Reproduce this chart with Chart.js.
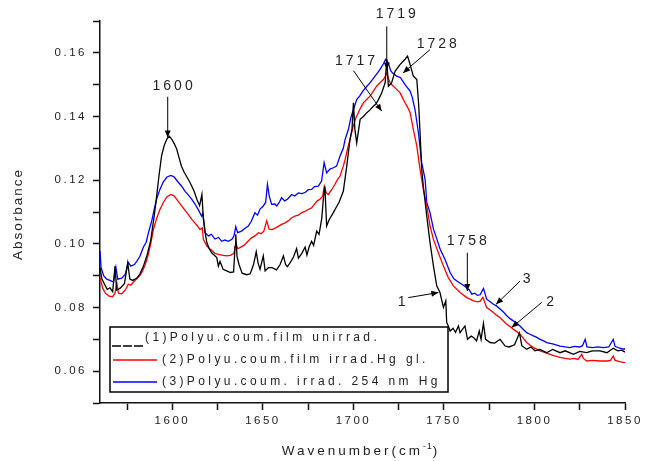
<!DOCTYPE html>
<html>
<head>
<meta charset="utf-8">
<script src="https://cdn.jsdelivr.net/npm/chart.js@4.4.1/dist/chart.umd.min.js"></script>
<style>
  html, body { margin: 0; padding: 0; background: #fff; }
  #wrap { width: 652px; height: 461px; }
</style>
</head>
<body>
<div id="wrap"><canvas id="chart" width="652" height="461"></canvas></div>
<script>
// ── Data ───────────────────────────────────────────────────────────────────
const seriesLabels = [
  "(1)Polyu.coum.film unirrad.",
  "(2)Polyu.coum.film irrad.Hg gl.",
  "(3)Polyu.coum. irrad. 254 nm Hg"
];

const blackWn = [
  1560, 1561, 1562.5, 1564, 1565.5, 1567, 1568.3, 1569.2, 1571, 1573.5,
  1575.3, 1576.5, 1578, 1580.3, 1582, 1584, 1586, 1588, 1590, 1591.3,
  1592.5, 1594, 1595.5, 1597, 1598.3, 1599.5, 1601, 1602.4, 1603.7, 1605,
  1606.5, 1608, 1609.5, 1610.7, 1612, 1613.5, 1615, 1616.3, 1617, 1618,
  1619, 1620.3, 1621.7, 1623, 1624.5, 1625.4, 1626.3, 1628, 1630, 1632,
  1633.8, 1634.6, 1635, 1635.7, 1636.8, 1638.5, 1641, 1643, 1644.8, 1646.3,
  1647.3, 1648.4, 1650.2, 1651.2, 1653, 1655, 1657.5, 1659.5, 1661.3, 1662.5,
  1663.5, 1665.5, 1667, 1668.6, 1669.6, 1671.5, 1673.3, 1674.3, 1675.5, 1676.9,
  1678, 1679.7, 1681, 1682.5, 1683.5, 1684.2, 1685.2, 1686.5, 1688.9, 1690.5,
  1692, 1694.4, 1696.3, 1698.1, 1699.2, 1700, 1700.8, 1701.8, 1703.7, 1705.5,
  1707.4, 1709, 1711, 1712.5, 1713.8, 1715.6, 1717.5, 1718.4, 1719.3, 1721,
  1723, 1725.7, 1728.5, 1729.9, 1731.3, 1733.1, 1735, 1736, 1736.8, 1737.7,
  1738.6, 1740.5, 1742.3, 1744.2, 1746, 1747.8, 1749.7, 1751, 1751.5, 1752.4,
  1753.4, 1755, 1756.4, 1758, 1758.9, 1760, 1761.6, 1763, 1765, 1766.5,
  1768, 1769.5, 1770.5, 1771.8, 1773, 1775.5, 1778, 1781, 1783.8, 1786,
  1789, 1791.7, 1793, 1795.7, 1798, 1800.3, 1803, 1806.7, 1810, 1814.1,
  1817, 1821.5, 1825, 1828.8, 1832, 1836.2, 1840, 1843.5, 1846, 1848.2, 1850
];
const blackAbs = [
  .0926, .0890, .0873, .0857, .0862, .0850, .0930, .0855, .0860, .0875,
  .0940, .0889, .0885, .0892, .0905, .0930, .0965, .1010, .1090, .1150,
  .1210, .1276, .1310, .1330, .1338, .1330, .1315, .1297, .1270, .1244,
  .1225, .1210, .1195, .1181, .1165, .1140, .1120, .1155, .1087, .1040,
  .1004, .0985, .0972, .0965, .0957, .0930, .0945, .0920, .0915, .0910,
  .0912, .0990, .1030, .0960, .0935, .0908, .0903, .0906, .0935, .0975,
  .0940, .0920, .0962, .0915, .0925, .0925, .0918, .0935, .0962, .0935,
  .0928, .0945, .0960, .0985, .0955, .0970, .0990, .0965, .0990, .1008,
  .0995, .1040, .1030, .1080, .1150, .1181, .1056, .1075, .1098, .1115,
  .1130, .1165, .1244, .1328, .1360, .1443, .1360, .1317, .1391, .1400,
  .1412, .1420, .1432, .1440, .1453, .1474, .1506, .1580, .1495, .1505,
  .1542, .1563, .1580, .1590, .1563, .1527, .1516, .1440, .1349, .1234,
  .1181, .1087, .1004, .0930, .0868, .0847, .0800, .0821, .0753, .0742,
  .0726, .0735, .0722, .0742, .0721, .0730, .0742, .0700, .0710, .0705,
  .0695, .0726, .0700, .0750, .0700, .0690, .0688, .0700, .0679, .0676,
  .0683, .0720, .0680, .0669, .0676, .0664, .0668, .0658, .0668, .0658,
  .0664, .0653, .0662, .0658, .0664, .0664, .0658, .0672, .0664, .0666, .0660
];

const redWn = [
  1560, 1561.5, 1563, 1565, 1567, 1568.3, 1569.3, 1570.2, 1572, 1574,
  1575.6, 1577, 1578.5, 1580.3, 1582, 1583.5, 1585, 1586.5, 1588, 1589.5,
  1591.3, 1593.1, 1595, 1597, 1599.2, 1601, 1603, 1605.1, 1607, 1609,
  1610.7, 1612.5, 1614, 1615.2, 1616.5, 1617.1, 1619, 1620.5, 1621.7, 1623.5,
  1625.5, 1628, 1630, 1632, 1634, 1635, 1636, 1637.3, 1639.5, 1641.9,
  1643.5, 1645.6, 1647.5, 1649, 1650.5, 1652.1, 1653.4, 1655, 1657, 1658.5,
  1660.3, 1662, 1664, 1665.9, 1668, 1669.5, 1671.4, 1673.5, 1675, 1676.9,
  1678.5, 1680, 1681.5, 1683, 1683.9, 1685, 1686.1, 1688, 1689.8, 1691,
  1692.6, 1694.4, 1695.4, 1696.8, 1698.1, 1699.9, 1701.3, 1702.7, 1704, 1705.5,
  1707.5, 1709.2, 1711, 1712.8, 1714.5, 1716.5, 1717.5, 1718.4, 1719.3, 1720.2,
  1721.5, 1723, 1725.7, 1727, 1728.5, 1730, 1731.3, 1733.1, 1735, 1736.8,
  1738.6, 1740.5, 1742.3, 1744.2, 1746.9, 1749.7, 1752.4, 1755.2, 1758.9, 1762.6,
  1766.3, 1768.5, 1770, 1771.5, 1773.6, 1775.5, 1777.3, 1779, 1781, 1783,
  1784.7, 1786.5, 1788.3, 1790, 1792, 1794, 1795.7, 1797.5, 1799.4, 1801,
  1803.1, 1806, 1808.6, 1811, 1814.1, 1817, 1819.6, 1822, 1824, 1826.1,
  1827, 1828.8, 1832, 1836, 1840, 1842, 1843.5, 1844.5, 1847, 1849.5, 1850
];
const redAbs = [
  .0894, .0860, .0845, .0836, .0834, .0845, .0878, .0845, .0843, .0855,
  .0873, .0870, .0880, .0890, .0900, .0915, .0935, .0962, .1000, .1045,
  .1080, .1108, .1130, .1148, .1155, .1150, .1135, .1119, .1105, .1090,
  .1077, .1065, .1055, .1045, .1050, .1014, .0993, .0985, .0980, .0970,
  .0967, .0964, .0962, .0964, .0970, .1004, .0985, .0988, .0995, .1009,
  .1018, .1025, .1035, .1032, .1040, .1072, .1046, .1045, .1050, .1055,
  .1061, .1065, .1072, .1082, .1088, .1090, .1098, .1103, .1108, .1113,
  .1125, .1135, .1140, .1150, .1181, .1160, .1155, .1170, .1187, .1200,
  .1213, .1244, .1265, .1300, .1328, .1370, .1395, .1412, .1428, .1443,
  .1455, .1464, .1480, .1495, .1505, .1516, .1525, .1537, .1520, .1506,
  .1498, .1490, .1475, .1460, .1443, .1428, .1412, .1359, .1307, .1234,
  .1171, .1119, .1056, .1014, .0972, .0930, .0894, .0868, .0847, .0831,
  .0821, .0818, .0820, .0832, .0800, .0792, .0784, .0776, .0768, .0757,
  .0747, .0740, .0732, .0725, .0716, .0702, .0690, .0682, .0674, .0670,
  .0664, .0658, .0653, .0648, .0643, .0640, .0638, .0640, .0637, .0653,
  .0640, .0632, .0634, .0632, .0632, .0634, .0648, .0634, .0630, .0627, .0628
];

const blueWn = [
  1560, 1560.6, 1562, 1563.7, 1565.5, 1567.5, 1568.8, 1569.8, 1572, 1574,
  1575.6, 1577, 1579, 1580.3, 1582, 1584, 1585.5, 1587, 1588.5, 1590,
  1591.5, 1593.1, 1595, 1597, 1599.2, 1601, 1603, 1605.1, 1607, 1609,
  1610.7, 1612.5, 1614.5, 1616.1, 1616.8, 1618, 1620, 1621.5, 1623.5, 1625.5,
  1627.2, 1629, 1631, 1633, 1634, 1635, 1636, 1638.2, 1640, 1641.9,
  1643.5, 1645.6, 1647, 1648.5, 1650.2, 1651.5, 1652.5, 1653.5, 1654.8, 1656.5,
  1657.6, 1659, 1660.3, 1662, 1663.5, 1665.9, 1667.5, 1669.6, 1671.5, 1673.5,
  1675, 1676.9, 1678.5, 1680.6, 1682.4, 1683.8, 1685.2, 1687, 1688.9, 1690.7,
  1692.6, 1694.4, 1695.4, 1697.2, 1698.5, 1700, 1701.8, 1703.5, 1705, 1707.4,
  1709, 1711, 1713, 1714.7, 1716.5, 1717.8, 1719.3, 1720.5, 1721.5, 1723.9,
  1726, 1728.5, 1731.3, 1732.5, 1734, 1735.9, 1737.7, 1739.6, 1740.5, 1742.3,
  1744.2, 1745.5, 1747.9, 1750.6, 1753.4, 1755.5, 1757.1, 1759.9, 1762.6, 1764,
  1765.4, 1767, 1768.5, 1770, 1771.8, 1773.6, 1775.5, 1777.3, 1779, 1781,
  1783, 1784.7, 1786.5, 1788.3, 1790, 1792, 1794, 1795.7, 1797.5, 1799.4,
  1801, 1803.1, 1805, 1806.7, 1810, 1814.1, 1817, 1819.6, 1822, 1825,
  1826.5, 1828, 1829, 1832, 1835, 1838, 1841, 1843.5, 1844.5, 1847, 1849.5, 1850
];
const blueAbs = [
  .0977, .0925, .0900, .0889, .0885, .0880, .0926, .0889, .0892, .0905,
  .0942, .0930, .0935, .0945, .0960, .0990, .1005, .1040, .1070, .1110,
  .1145, .1171, .1195, .1210, .1215, .1210, .1195, .1181, .1165, .1152,
  .1140, .1125, .1105, .1087, .1095, .1035, .1025, .1030, .1015, .1020,
  .1008, .1012, .1008, .1015, .1025, .1054, .1035, .1040, .1048, .1056,
  .1070, .1098, .1090, .1110, .1119, .1130, .1187, .1150, .1124, .1125,
  .1119, .1130, .1145, .1135, .1140, .1155, .1150, .1160, .1158, .1162,
  .1170, .1171, .1180, .1181, .1197, .1255, .1223, .1235, .1239, .1244,
  .1276, .1300, .1328, .1359, .1395, .1422, .1453, .1465, .1478, .1495,
  .1505, .1520, .1535, .1548, .1565, .1580, .1568, .1545, .1537, .1527,
  .1522, .1500, .1480, .1460, .1422, .1349, .1255, .1202, .1130, .1098,
  .1046, .1025, .0983, .0951, .0910, .0890, .0883, .0873, .0862, .0855,
  .0842, .0845, .0838, .0840, .0860, .0826, .0818, .0810, .0805, .0795,
  .0785, .0774, .0765, .0758, .0752, .0742, .0730, .0721, .0716, .0711,
  .0707, .0700, .0695, .0690, .0686, .0679, .0676, .0674, .0678, .0676,
  .0680, .0700, .0676, .0674, .0676, .0674, .0676, .0700, .0678, .0672, .0669, .0672
];

// axis ticks (minor ticks carry empty labels)
const xTicks      = [1575, 1600, 1625, 1650, 1675, 1700, 1725, 1750, 1775, 1800, 1825, 1850];
const xTickLabels = ["", "1600", "", "1650", "", "1700", "", "1750", "", "1800", "", "1850"];
const yTicks      = [0.05, 0.06, 0.07, 0.08, 0.09, 0.10, 0.11, 0.12, 0.13, 0.14, 0.15, 0.16, 0.17];
const yTickLabels = ["", "0.06", "", "0.08", "", "0.10", "", "0.12", "", "0.14", "", "0.16", ""];

// peak annotations: label anchor, arrow tail, arrow tip (data coords)
const peakNotes = [
  { text: "1600", at: [1600.1, 0.1495], from: [1597.4, 0.1462], to: [1597.4, 0.1334] },
  { text: "1719", at: [1723.4, 0.1720], from: [1718.4, 0.1683], to: [1718.4, 0.1548] },
  { text: "1717", at: [1700.9, 0.1574], from: [1700.0, 0.1544], to: [1715.6, 0.1417] },
  { text: "1728", at: [1746.0, 0.1626], from: [1742.3, 0.1610], to: [1727.4, 0.1537] },
  { text: "1758", at: [1762.6, 0.1009], from: [1762.9, 0.0972], to: [1762.9, 0.0852] },
  { text: "3",    at: [1795.7, 0.0889], from: [1792.0, 0.0883], to: [1778.8, 0.0810] },
  { text: "2",    at: [1808.6, 0.0816], from: [1804.0, 0.0816], to: [1787.4, 0.0737] },
  { text: "1",    at: [1726.6, 0.0816], from: [1730.3, 0.0831], to: [1746.9, 0.0847] }
];

const X_MIN = 1560, X_MAX = 1850, Y_MIN = 0.05, Y_MAX = 0.17;
const FONT  = "'Liberation Sans', Arial, sans-serif";
const INK   = "#222";

const toXY = (xs, ys) => xs.map((x, i) => ({ x, y: ys[i] }));

// ── Helpers ────────────────────────────────────────────────────────────────
function arrow(ctx, x1, y1, x2, y2) {
  const a = Math.atan2(y2 - y1, x2 - x1), L = 7, W = 3;
  ctx.beginPath();
  ctx.moveTo(x1, y1);
  ctx.lineTo(x2, y2);
  ctx.stroke();
  ctx.beginPath();
  ctx.moveTo(x2, y2);
  ctx.lineTo(x2 - L * Math.cos(a) - W * Math.sin(a), y2 - L * Math.sin(a) + W * Math.cos(a));
  ctx.lineTo(x2 - L * Math.cos(a) + W * Math.sin(a), y2 - L * Math.sin(a) - W * Math.cos(a));
  ctx.closePath();
  ctx.fill();
}

function spacedText(ctx, text, x, y, spacing, align) {
  ctx.letterSpacing = spacing + "px";
  const w = ctx.measureText(text).width - spacing;
  const sx = align === "center" ? x - w / 2 : x;
  ctx.textAlign = "left";
  ctx.fillText(text, sx, y);
  return w + spacing;
}

const spectrumDecor = {
  id: "spectrumDecor",
  beforeDraw(chart) {
    chart.ctx.letterSpacing = "2.5px";
  },
  afterDraw(chart) {
    const { ctx, chartArea: ca, scales: { x, y } } = chart;
    ctx.save();
    ctx.fillStyle = INK;
    ctx.strokeStyle = "#000";
    ctx.lineWidth = 1;
    ctx.textBaseline = "middle";

    // peak labels and arrows
    ctx.font = `14px ${FONT}`;
    for (const n of peakNotes) {
      spacedText(ctx, n.text, x.getPixelForValue(n.at[0]), y.getPixelForValue(n.at[1]), 3, "center");
      ctx.fillStyle = "#000";
      arrow(ctx, x.getPixelForValue(n.from[0]), y.getPixelForValue(n.from[1]),
                 x.getPixelForValue(n.to[0]),   y.getPixelForValue(n.to[1]));
      ctx.fillStyle = INK;
    }

    // legend box
    const lx = ca.left + 10, ly = ca.bottom - 76, lw = 338, lh = 65;
    ctx.fillStyle = "#fff";
    ctx.fillRect(lx, ly, lw, lh);
    ctx.lineWidth = 1.5;
    ctx.strokeStyle = "#000";
    ctx.strokeRect(lx, ly, lw, lh);
    const rows = [ly + 11, ly + 33, ly + 55];
    chart.data.datasets.forEach((ds, i) => {
      ctx.strokeStyle = ds.borderColor;
      ctx.lineWidth = 1.3;
      ctx.beginPath();
      if (i === 0) {
        ctx.setLineDash([9, 2]);
        ctx.moveTo(lx + 2, rows[i] + 8);
        ctx.lineTo(lx + 34, rows[i] + 8);
      } else {
        ctx.setLineDash([]);
        ctx.moveTo(lx + 3, rows[i]);
        ctx.lineTo(lx + 47, rows[i]);
      }
      ctx.stroke();
      ctx.setLineDash([]);
      ctx.font = `12px ${FONT}`;
      ctx.fillStyle = INK;
      spacedText(ctx, ds.label, lx + (i === 0 ? 35 : 52), rows[i], 3.4, "left");
    });

    // axis titles
    ctx.fillStyle = INK;
    ctx.font = `13.5px ${FONT}`;
    ctx.save();
    ctx.translate(18, 215);
    ctx.rotate(-Math.PI / 2);
    spacedText(ctx, "Absorbance", 0, 0, 2, "center");
    ctx.restore();

    ctx.textBaseline = "alphabetic";
    ctx.letterSpacing = "3px";
    ctx.font = `13.5px ${FONT}`;
    const main = "Wavenumber(cm", tail = ")";
    const wMain = ctx.measureText(main).width, wTail = ctx.measureText(tail).width;
    ctx.font = `8.5px ${FONT}`;
    ctx.letterSpacing = "1px";
    const wSup = ctx.measureText("-1").width;
    let tx = 361 - (wMain + wSup + wTail) / 2;
    const ty = 455;
    ctx.font = `13.5px ${FONT}`;
    ctx.letterSpacing = "3px";
    ctx.textAlign = "left";
    ctx.fillText(main, tx, ty);
    tx += wMain;
    ctx.font = `8.5px ${FONT}`;
    ctx.letterSpacing = "1px";
    ctx.fillText("-1", tx, ty - 6);
    tx += wSup;
    ctx.font = `13.5px ${FONT}`;
    ctx.letterSpacing = "3px";
    ctx.fillText(tail, tx, ty);
    ctx.restore();
  }
};

// ── Chart ──────────────────────────────────────────────────────────────────
const seriesColours = ["#000000", "#ff0000", "#0000ff"];
const seriesData = [toXY(blackWn, blackAbs), toXY(redWn, redAbs), toXY(blueWn, blueAbs)];

new Chart(document.getElementById("chart").getContext("2d"), {
  type: "line",
  data: {
    datasets: seriesData.map((d, i) => ({
      label: seriesLabels[i],
      data: d,
      borderColor: seriesColours[i],
      backgroundColor: seriesColours[i],
      borderWidth: 1.3,
      pointRadius: 0,
      tension: 0,
      fill: false
    }))
  },
  options: {
    responsive: false,
    animation: false,
    devicePixelRatio: 1,
    layout: { padding: { top: 21, right: 27, left: 0, bottom: 0 } },
    plugins: { legend: { display: false }, tooltip: { enabled: false } },
    scales: {
      x: {
        type: "linear", min: X_MIN, max: X_MAX,
        afterBuildTicks: s => { s.ticks = xTicks.map(v => ({ value: v })); },
        afterFit: s => { s.height = 58; },
        border: { display: true, color: "#111", width: 1.5 },
        grid: { drawOnChartArea: false, drawTicks: true, tickLength: 7, tickWidth: 1.5, tickColor: "#111" },
        ticks: {
          autoSkip: false, maxRotation: 0, padding: 4, color: INK,
          font: { family: FONT, size: 11.5 },
          callback: (v, i) => xTickLabels[i]
        }
      },
      y: {
        type: "linear", min: Y_MIN, max: Y_MAX,
        afterBuildTicks: s => { s.ticks = yTicks.map(v => ({ value: v })); },
        afterFit: s => { s.width = 100; },
        border: { display: true, color: "#111", width: 1.5 },
        grid: { drawOnChartArea: false, drawTicks: true, tickLength: 7, tickWidth: 1.5, tickColor: "#111" },
        ticks: {
          autoSkip: false, padding: 6, color: INK,
          font: { family: FONT, size: 11.5 },
          callback: (v, i) => yTickLabels[i]
        }
      }
    }
  },
  plugins: [spectrumDecor]
});
</script>
</body>
</html>
